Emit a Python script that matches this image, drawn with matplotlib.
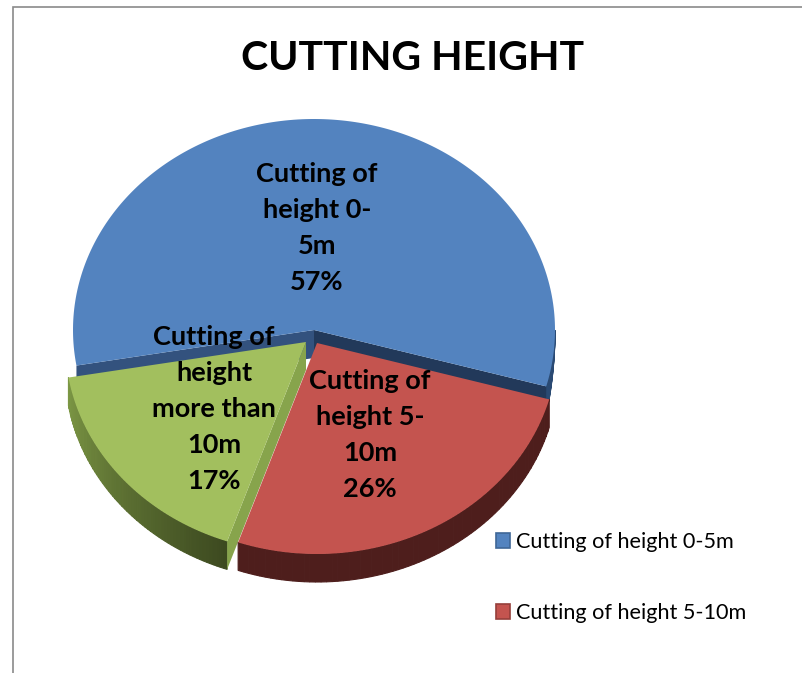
import numpy as np
import matplotlib
matplotlib.use("Agg")
import matplotlib.pyplot as plt
from matplotlib.patches import Patch
from matplotlib.colors import to_rgb

# ---- data ----
categories = ["Cutting of height 0-5m", "Cutting of height 5-10m", "Cutting of height more than 10m"]
values = [57, 26, 17]
slice_labels = ["Cutting of\nheight 0-\n5m\n57%", "Cutting of\nheight 5-\n10m\n26%",
                "Cutting of\nheight\nmore than\n10m\n17%"]
title = "CUTTING HEIGHT"
legend_count = 2

# ---- style ----
W, H = 802, 673
START = -15.5
RX, RY, DEPTH = 241, 211, 28
centers = [(314, 330), (317, 343), (306, 342)]
top_cols = ["#5383BF", "#C4544F", "#A2BF5E"]
side_cols = [("#2A4A73", "#2A4A73"), ("#4E1E1C", "#4E1E1C"), ("#7D9845", "#3D4A20")]
wall_cols = ["#22395A", "#4E1E1C", "#87A44C"]
wall2_col = "#33527E"
label_pos = [(317, 228), (370, 435), (214, 409)]

fig = plt.figure(figsize=(W / 100, H / 100), dpi=100, facecolor="white")
ax = fig.add_axes([0, 0, 1, 1])
ax.set_xlim(0, W)
ax.set_ylim(H, 0)
ax.axis("off")

ax.plot([12.5, 12.5, W], [H, 7, 7], color="#8A8A8A", lw=1.2, solid_joinstyle="miter")

fracs = np.array(values) / sum(values)
spans = 360 * fracs
# first slice runs counter-clockwise from START, the others clockwise from it
angles = [(START, START + spans[0]),
          (START - spans[1], START),
          (START - spans[1] - spans[2], START - spans[1])]


def arc(c, a0, a1, n=120):
    t = np.radians(np.linspace(a0, a1, n))
    return c[0] + RX * np.cos(t), c[1] - RY * np.sin(t)


def draw_side(c, a0, a1, cols, z, taper=False):
    n = 70
    edges = np.linspace(a0, a1, n + 1)
    c0, c1 = np.array(to_rgb(cols[0])), np.array(to_rgb(cols[1]))
    for i in range(n):
        x, y = arc(c, edges[i], edges[i + 1], 4)
        f = i / (n - 1)
        col = c0 + (c1 - c0) * f
        d = DEPTH * (1 - f) if taper else DEPTH
        ax.fill(np.r_[x, x[::-1]], np.r_[y, y[::-1] + d], facecolor=col, edgecolor=col, lw=0.8, zorder=z + i * 0.001)


def draw_wall(c, a, col, z):
    x, y = arc(c, a, a, 1)
    ax.fill([c[0], x[0], x[0], c[0]], [c[1], y[0], y[0] + DEPTH, c[1] + DEPTH], color=col, lw=0, zorder=z)


def draw_top(c, a0, a1, col, z):
    x, y = arc(c, a0, a1, 200)
    ax.fill(np.r_[c[0], x], np.r_[c[1], y], color=col, lw=0, zorder=z)


# blue (back slice)
a0, a1 = angles[0]
draw_side(centers[0], a0, 0, side_cols[0], 1, taper=True)
draw_wall(centers[0], a0, wall_cols[0], 2)
draw_wall(centers[0], a1, wall2_col, 2)
draw_top(centers[0], a0, a1, top_cols[0], 3)
# green
a0, a1 = angles[2]
draw_side(centers[2], a0, a1, side_cols[2], 4)
draw_wall(centers[2], a1, wall_cols[2], 5)
draw_top(centers[2], a0, a1, top_cols[2], 6)
# red
a0, a1 = angles[1]
draw_side(centers[1], a0, a1, side_cols[1], 7)
draw_top(centers[1], a0, a1, top_cols[1], 8)

ax.text(413, 58, title, fontsize=29.5, fontweight="bold", family="Lato", ha="center", va="center", color="black", zorder=20)

for (x, y), s in zip(label_pos, slice_labels):
    ax.text(x, y, s, fontsize=19.5, fontweight="bold", family="Lato", ha="center", va="center",
            linespacing=1.6, color="black", zorder=20)

handles = [Patch(facecolor=top_cols[i], edgecolor=["#3F6797", "#963F3B"][i], lw=1.2) for i in range(legend_count)]
ax.legend(handles, categories[:legend_count], loc="upper left", bbox_to_anchor=(496 / W, 1 - 532 / H),
          frameon=False, prop={"family": "Lato", "size": 15.6}, handlelength=0.65, handleheight=0.65,
          handletextpad=0.28, labelspacing=2.35, borderpad=0, borderaxespad=0)

fig.savefig("out.png", dpi=100, facecolor="white")
